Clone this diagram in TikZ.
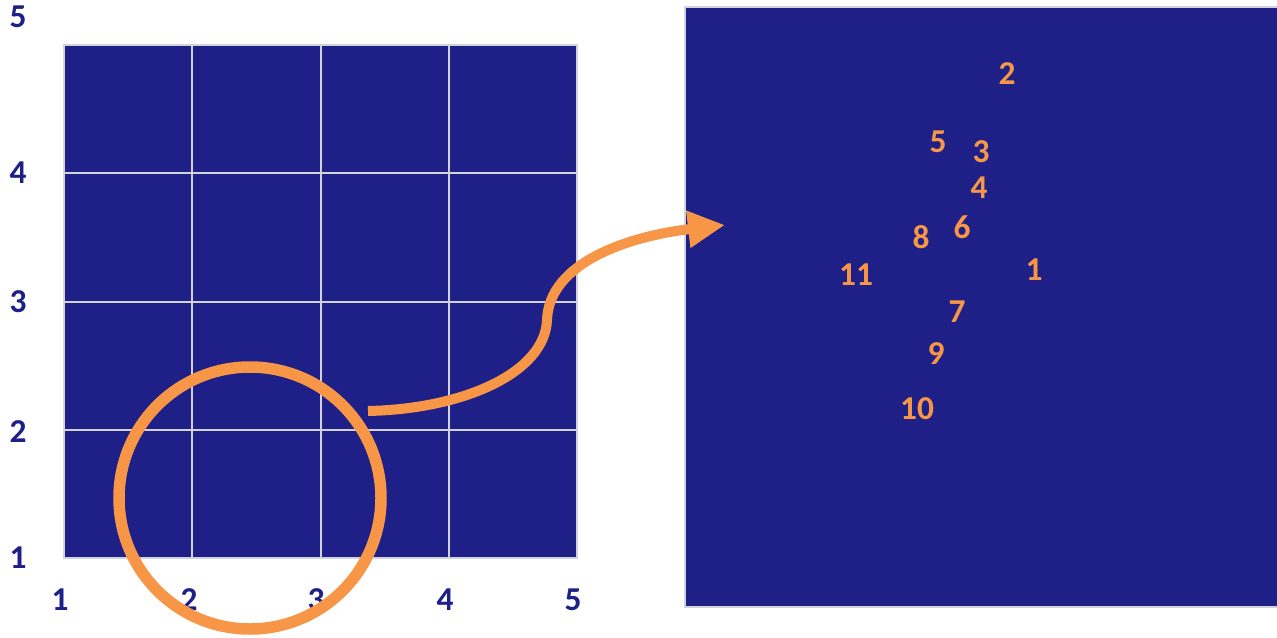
\documentclass[tikz,border=0pt]{standalone}
\usepackage{fontspec}
\setmainfont{Carlito}
\usetikzlibrary{arrows.meta}
\definecolor{panelblue}{HTML}{1E2087}
\definecolor{lensorange}{HTML}{F79646}
\definecolor{gridgray}{HTML}{D2D2DA}
\tikzset{
  map panel/.style={fill=panelblue,draw=gridgray,line width=.9pt},
  map grid/.style={gridgray,line width=1.1pt},
  map tick/.style={text=panelblue,font=\fontsize{19}{21}\selectfont\bfseries},
  map point/.style={text=lensorange,font=\fontsize{19}{21}\selectfont\bfseries},
  map lens/.style={lensorange,line width=.23cm},
  map arrow/.style={lensorange,line width=.2cm,-{Triangle[length=.74cm,width=.7cm]}}
}
\begin{document}
\begin{tikzpicture}[x=.02cm,y=.02cm]
  \useasboundingbox (0,0) rectangle (1277,637);
  % left grid
  \draw[map panel] (64,79) rectangle (577,592);
  \draw[map grid] (192,79)--(192,592) (321,79)--(321,592) (449,79)--(449,592);
  \draw[map grid] (64,207)--(577,207) (64,335)--(577,335) (64,464)--(577,464);
  \node[map tick] (y5) at (18,620) {5};
  \node[map tick] (y4) at (18,464) {4};
  \node[map tick] (y3) at (18,335) {3};
  \node[map tick] (y2) at (18,205) {2};
  \node[map tick] (y1) at (18,79) {1};
  \node[map tick] (x1) at (60,37) {1};
  \node[map tick] (x2) at (189,37) {2};
  \node[map tick] (x3) at (316,37) {3};
  \node[map tick] (x4) at (445,37) {4};
  \node[map tick] (x5) at (573,37) {5};
  % zoomed panel
  \fill[panelblue] (685,30) rectangle (1277,630);
  \draw[gridgray,line width=.9pt] (1277,630)--(685,630)--(685,30)--(1277,30);
  \node[map point] (p1) at (1034,367) {1};
  \node[map point] (p2) at (1007,563) {2};
  \node[map point] (p3) at (981,485) {3};
  \node[map point] (p4) at (979,449) {4};
  \node[map point] (p5) at (938,495) {5};
  \node[map point] (p6) at (962,410) {6};
  \node[map point] (p7) at (957,325) {7};
  \node[map point] (p8) at (921,400) {8};
  \node[map point] (p9) at (936,283) {9};
  \node[map point] (p10) at (917,228) {10};
  \node[map point] (p11) at (856,362) {11};
  % lens and arrow
  \draw[map lens] (250,139) circle (131);
  \coordinate (lens out) at (368,226);
  \coordinate (panel in) at (725,412);
  \draw[map arrow] (lens out) .. controls (465,228) and (545,265) .. (547,317)
    .. controls (549,375) and (630,401) .. (panel in);
\end{tikzpicture}
\end{document}
